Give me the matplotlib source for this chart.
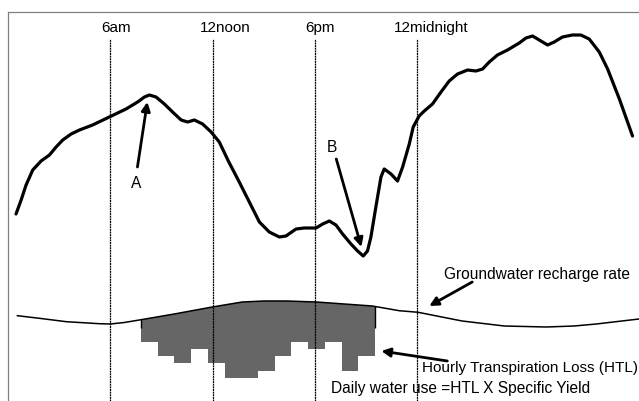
import matplotlib
matplotlib.use('Agg')
import matplotlib.pyplot as plt
import numpy as np
from matplotlib.patches import Polygon

plt.rcParams['font.family'] = ['Liberation Sans', 'DejaVu Sans']

# water table trace (hours from start, relative level)
trace_hours = [0.47, 0.77, 1.06, 1.45, 1.94, 2.43, 2.82, 3.21, 3.70, 4.19, 4.96, 5.94,
               6.92, 7.60, 8.00, 8.29, 8.68, 9.17, 9.65, 10.15, 10.53, 10.93, 11.41,
               11.91, 12.39, 12.92, 13.56, 14.15, 14.74, 15.32, 15.91, 16.30, 16.89,
               17.37, 18.06, 18.45, 18.84, 19.23, 19.62, 20.11, 20.50, 20.83, 21.08,
               21.28, 21.58, 21.87, 22.06, 22.46, 22.84, 23.14, 23.53, 23.76, 24.11,
               24.41, 24.89, 25.39, 25.87, 26.36, 26.95, 27.44, 27.83, 28.22, 28.70,
               29.29, 29.98, 30.37, 30.76, 31.15, 31.64, 32.03, 32.51, 33.10, 33.59,
               34.08, 34.67, 35.16, 35.85, 36.62]
trace_level = [187, 201, 216, 231, 240, 246, 254, 261, 267, 271, 276, 284,
               292, 299, 304, 306, 304, 297, 289, 281, 279, 281, 277,
               269, 259, 240, 219, 199, 179, 169, 164, 165, 172,
               173, 173, 177, 180, 176, 167, 157, 150, 145, 150,
               164, 195, 224, 232, 227, 220, 234, 257, 274, 285,
               290, 297, 309, 320, 327, 331, 330, 332, 339, 346,
               351, 358, 363, 365, 361, 356, 359, 364, 366, 366,
               362, 349, 332, 302, 265]

# groundwater recharge rate line
recharge_hours = [0.55, 1.84, 3.42, 5.36, 6.0, 6.82, 7.70, 9.75, 11.98, 13.74, 15.03,
                  16.32, 18.08, 19.72, 21.36, 22.94, 24.05, 25.29, 26.63, 29.1, 31.56,
                  33.2, 34.49, 37.0]
recharge_level = [85.3, 82.7, 79.3, 77.3, 77, 78.5, 81, 87, 94, 99, 100,
                  100, 99, 97, 95, 90.3, 88.7, 84.5, 80, 75, 74,
                  75, 77, 82]

# hourly transpiration loss: bottom level of each hourly bar
htl_bottom = [59, 45, 38, 52, 38, 23, 23, 30, 45, 59, 52, 59, 30, 45]

time_marks = [6, 12, 18, 24]
time_labels = ['6am', '12noon', '6pm', '12midnight']

fig = plt.figure(figsize=(6.39, 4.02), dpi=100)
ax = fig.add_axes([8 / 639, 0, 631 / 639, 389 / 402])
ax.set_xlim(0, 37)
ax.set_ylim(0, 389)

# frame
for side in ['right', 'bottom']:
    ax.spines[side].set_visible(False)
for side in ['top', 'left']:
    ax.spines[side].set_color('#808080')
    ax.spines[side].set_linewidth(0.9)
ax.set_xticks([])
ax.set_yticks([])

# time markers
label_shift = [0.35, 0.76, 0.3, 0.8]
for t, lab, dx in zip(time_marks, time_labels, label_shift):
    ax.plot([t, t], [0, 362], color='black', lw=0.9, ls=(0, (1.6, 0.5)))
    ax.text(t + dx, 374, lab, ha='center', va='center', fontsize=11)

# HTL bars clipped under recharge line
bar_start, bar_w = 7.8, 0.98
lefts = bar_start + bar_w * np.arange(len(htl_bottom))
clip = Polygon(list(zip(recharge_hours, recharge_level)) + [(37, 0), (0, 0)],
               closed=True, transform=ax.transData)
bars = ax.bar(lefts, [120 - b for b in htl_bottom], bottom=htl_bottom,
              width=bar_w, align='edge', color='#666666', lw=0)
for b in bars:
    b.set_clip_path(clip)
edges = ax.vlines([bar_start, bar_start + bar_w * len(htl_bottom)], 73, 120,
                  color='black', lw=1.0)
edges.set_clip_path(clip)

ax.plot(recharge_hours, recharge_level, color='black', lw=1.1)
ax.plot(trace_hours, trace_level, color='black', lw=2.3,
        solid_joinstyle='round', solid_capstyle='round')

arrow = dict(arrowstyle='-|>', color='black', lw=2, mutation_scale=13,
             shrinkA=0, shrinkB=0)
ax.annotate('', xy=(8.17, 299), xytext=(7.59, 234), arrowprops=arrow)
ax.text(7.53, 218, 'A', ha='center', va='center', fontsize=11.2)
ax.annotate('', xy=(20.72, 154), xytext=(19.25, 242), arrowprops=arrow)
ax.text(19.01, 255, 'B', ha='center', va='center', fontsize=11.2)
ax.annotate('', xy=(24.7, 95), xytext=(27.22, 119), arrowprops=arrow)
ax.text(25.58, 128, 'Groundwater recharge rate', ha='left', va='center', fontsize=11.2)
ax.annotate('', xy=(21.89, 50), xytext=(25.76, 40), arrowprops=arrow)
ax.text(24.29, 34, 'Hourly Transpiration Loss (HTL)', ha='left', va='center', fontsize=11)
ax.text(18.96, 13, 'Daily water use =HTL X Specific Yield', ha='left', va='center',
        fontsize=11.2)

fig.savefig('out.png', dpi=100)
